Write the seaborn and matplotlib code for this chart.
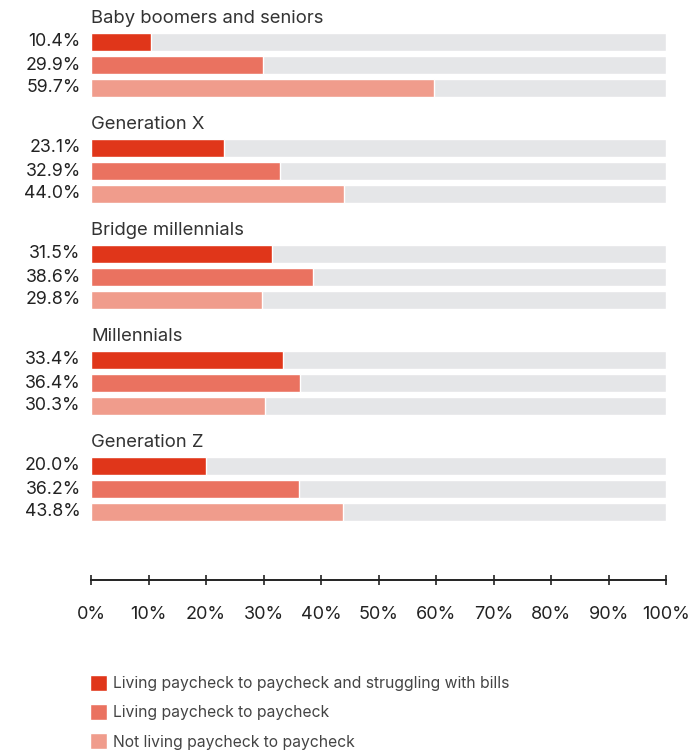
import numpy as np
import pandas as pd
import seaborn as sns
import matplotlib.pyplot as plt

# Share of each generation by paycheck-to-paycheck status (%)
groups = ["Baby boomers and seniors", "Generation X", "Bridge millennials",
          "Millennials", "Generation Z"]
struggling = [10.4, 23.1, 31.5, 33.4, 20.0]
paycheck = [29.9, 32.9, 38.6, 36.4, 36.2]
not_paycheck = [59.7, 44.0, 29.8, 30.3, 43.8]

series_names = ["Living paycheck to paycheck and struggling with bills",
                "Living paycheck to paycheck",
                "Not living paycheck to paycheck"]
colors = ["#e0361a", "#ea7260", "#f09c8c"]
tick_values = list(range(0, 101, 10))
tick_labels = [f"{t}%" for t in tick_values]

# Layout: one unit = spacing between bars inside a group
GROUP_STEP = 106 / 23
BAR_WIDTH = 0.78

records = []
for g, name in enumerate(groups):
    for s, vals in enumerate([struggling, paycheck, not_paycheck]):
        records.append({"group": name, "series": series_names[s],
                        "value": vals[g], "full": 100.0,
                        "pos": g * GROUP_STEP + s})
df = pd.DataFrame(records)

sns.set_theme(style="white")
plt.rcParams["font.family"] = ["Inter", "DejaVu Sans"]

fig = plt.figure(figsize=(6.93, 7.53), dpi=100)
ax = fig.add_axes([91 / 693, (753 - 580) / 753, 575 / 693, 580 / 753])

# Grey track behind every bar
sns.barplot(data=df, x="full", y="pos", orient="h", native_scale=True,
            color="#e5e6e8", saturation=1, width=BAR_WIDTH, errorbar=None,
            ax=ax, legend=False)
# Coloured value bars
sns.barplot(data=df, x="value", y="pos", hue="series", hue_order=series_names,
            palette=colors, orient="h", native_scale=True, dodge=False,
            saturation=1, width=BAR_WIDTH, errorbar=None, ax=ax)

ax.set_xlim(0, 100)
ax.set_ylim(580 / 23 - 42 / 23, -42 / 23)
ax.set_xlabel("")
ax.set_ylabel("")
ax.set_yticks([])
ax.set_xticks(tick_values)
ax.set_xticklabels(tick_labels, fontsize=13, color="#222222")
ax.tick_params(axis="x", direction="inout", length=7, width=1.2,
               color="#222222", pad=15, bottom=True)
for side in ["top", "right", "left"]:
    ax.spines[side].set_visible(False)
ax.spines["bottom"].set_color("#222222")
ax.spines["bottom"].set_linewidth(1.4)

# Value labels and group titles
for _, row in df.iterrows():
    ax.text(-1.8, row["pos"], f"{row['value']:.1f}%", ha="right", va="center",
            fontsize=12.8, color="#222222")
for g, name in enumerate(groups):
    ax.text(0, g * GROUP_STEP - 1.02, name, ha="left", va="center",
            fontsize=13.3, color="#333333")

handles, labels = ax.get_legend_handles_labels()
if ax.get_legend() is not None:
    ax.get_legend().remove()
fig.legend(handles, labels, loc="upper left",
           bbox_to_anchor=(82 / 693, 1 - 667 / 753), frameon=False,
           fontsize=11.3, handlelength=1.1, handleheight=1.2,
           handletextpad=0.4, labelspacing=0.82, borderpad=0,
           labelcolor="#444444")

fig.savefig("out.png", dpi=100)
